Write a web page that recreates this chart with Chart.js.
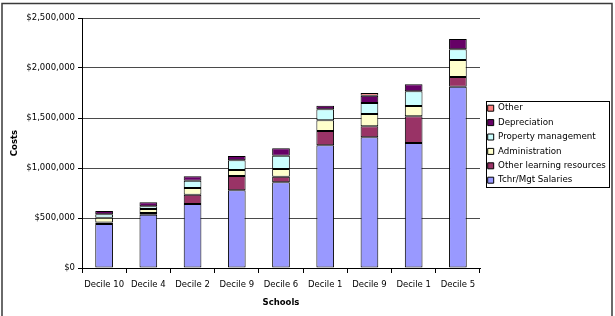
<!DOCTYPE html>
<html>
<head>
<meta charset="utf-8">
<script src="https://cdn.jsdelivr.net/npm/chart.js@4/dist/chart.umd.min.js"></script>
<style>
  html, body { margin: 0; padding: 0; background: #fff; }
  #wrap { width: 615px; height: 316px; position: relative; }
</style>
</head>
<body>
<div id="wrap"><canvas id="c" width="615" height="316"></canvas></div>
<script>
const categories = ['Decile 10', 'Decile 4', 'Decile 2', 'Decile 9', 'Decile 6', 'Decile 1', 'Decile 9', 'Decile 1', 'Decile 5'];
const salaries     = [440000, 533000, 640000, 777000, 857000, 1227000, 1307000, 1250000, 1813000];
const otherLearning = [15000, 17000, 93000, 143000, 56000, 143000, 110000, 267000, 97000];
const administration = [48000, 40000, 67000, 60000, 77000, 107000, 123000, 103000, 170000];
const propertyMgmt = [34000, 27000, 73000, 97000, 133000, 110000, 110000, 147000, 107000];
const depreciation = [33000, 40000, 44000, 43000, 74000, 36000, 73000, 70000, 103000];
const other        = [0, 0, 0, 0, 0, 0, 27000, 0, 0];
const yTicks = [0, 500000, 1000000, 1500000, 2000000, 2500000];

const FONT = 'DejaVu Sans';
Chart.defaults.font.family = FONT;
Chart.defaults.font.size = 8.5;
Chart.defaults.color = '#000';

const LEGEND_W = 135;

const layoutPlugin = {
  id: 'layoutPlugin',
  beforeLayout(chart) {
    const lg = chart.legend;
    if (lg && !lg._fixed) {
      const fit = lg.fit;
      lg.fit = function () { fit.call(this); this.width = LEGEND_W; };
      lg._fixed = true;
    }
  },
  afterLayout(chart) {
    const lg = chart.legend;
    if (lg) {
      lg.left += 2; lg.right += 2;
      lg.top += 1.2; lg.bottom += 1.2;
    }
  },
  beforeDraw(chart) {
    const ctx = chart.ctx;
    ctx.save();
    ctx.fillStyle = '#fff';
    ctx.fillRect(0, 0, chart.width, chart.height);
    ctx.strokeStyle = '#3a3a3a';
    ctx.lineWidth = 1.5;
    ctx.beginPath();
    ctx.moveTo(2, 320);
    ctx.lineTo(2, 3.5);
    ctx.lineTo(612, 3.5);
    ctx.lineTo(612, 320);
    ctx.stroke();
    ctx.restore();
  },
  afterDraw(chart) {
    const lg = chart.legend;
    if (!lg || !lg.legendHitBoxes || !lg.legendHitBoxes.length) return;
    const hb = lg.legendHitBoxes;
    const first = hb[0], last = hb[hb.length - 1];
    const x0 = 486.5, x1 = 609.5;
    const y0 = Math.round(first.top + first.height / 2 - 7.3) + 0.5;
    const y1 = Math.round(last.top + last.height / 2 + 7) + 0.5;
    const ctx = chart.ctx;
    ctx.save();
    ctx.strokeStyle = '#000';
    ctx.lineWidth = 1;
    ctx.strokeRect(x0, y0, x1 - x0, y1 - y0);
    ctx.restore();
  }
};

function ds(label, data, color) {
  return {
    label, data,
    backgroundColor: color,
    borderColor: '#000',
    borderWidth: (c) => (c.raw === 0 ? 0 : 1),
    borderSkipped: false,
    barPercentage: 0.4,
    categoryPercentage: 1.0
  };
}

new Chart(document.getElementById('c'), {
  type: 'bar',
  data: {
    labels: categories,
    datasets: [
      ds('Tchr/Mgt Salaries', salaries, '#9999FF'),
      ds('Other learning resources', otherLearning, '#993366'),
      ds('Administration', administration, '#FFFFCC'),
      ds('Property management', propertyMgmt, '#CCFFFF'),
      ds('Depreciation', depreciation, '#660066'),
      ds('Other', other, '#FF8080')
    ]
  },
  options: {
    responsive: false,
    animation: false,
    devicePixelRatio: 1,
    layout: { padding: { top: 18, left: 0, right: 0, bottom: 0 } },
    plugins: {
      tooltip: { enabled: false },
      legend: {
        display: true,
        position: 'right',
        fullSize: false,
        reverse: true,
        align: 'center',
        labels: {
          boxWidth: 6,
          boxHeight: 6,
          padding: 5.7,
          color: '#000',
          font: { family: FONT, size: 8.7 },
          generateLabels(chart) {
            const items = Chart.defaults.plugins.legend.labels.generateLabels(chart);
            items.forEach(it => { it.lineWidth = 1; it.strokeStyle = '#000'; });
            return items;
          }
        }
      }
    },
    scales: {
      x: {
        stacked: true,
        offset: true,
        grid: {
          display: true,
          drawOnChartArea: false,
          drawTicks: true,
          tickLength: 5,
          color: '#000',
          tickColor: '#000',
          offset: true
        },
        border: { display: true, color: '#000', width: 1 },
        ticks: { padding: 7, color: '#000', font: { family: FONT, size: 8.5 }, maxRotation: 0, autoSkip: false },
        title: { display: true, text: 'Schools', color: '#000', font: { family: FONT, size: 8.5, weight: 'bold' }, padding: { top: 0, bottom: 8.5 } },
        afterFit(scale) { scale.height = 48; }
      },
      y: {
        stacked: true,
        min: 0,
        max: 2500000,
        afterBuildTicks(scale) { scale.ticks = yTicks.map(v => ({ value: v })); },
        grid: {
          color: '#4a4a4a',
          tickColor: '#000',
          tickLength: 4,
          drawTicks: true
        },
        border: { display: true, color: '#000', width: 1 },
        ticks: {
          padding: 3,
          color: '#000',
          font: { family: FONT, size: 8.5 },
          callback: (v) => '$' + Number(v).toLocaleString('en-US')
        },
        title: { display: true, text: 'Costs', color: '#000', font: { family: FONT, size: 8.5, weight: 'bold' }, padding: { top: 10, bottom: 0 } },
        afterFit(scale) { scale.width = 82; }
      }
    }
  },
  plugins: [layoutPlugin]
});
</script>
</body>
</html>
